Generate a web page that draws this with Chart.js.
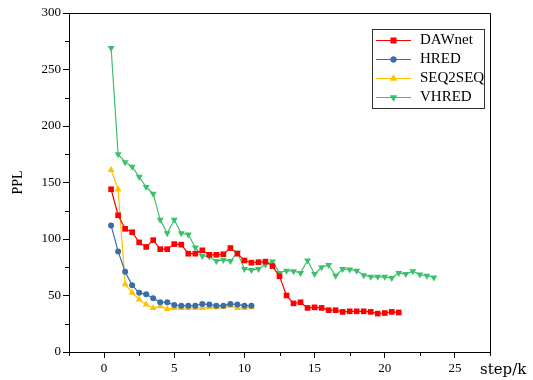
<!DOCTYPE html>
<html>
<head>
<meta charset="utf-8">
<script src="https://cdn.jsdelivr.net/npm/chart.js@4"></script>
<style>
  html, body { margin: 0; padding: 0; background: #fff; }
  #wrap { width: 533px; height: 380px; }
</style>
</head>
<body>
<div id="wrap"><canvas id="c" width="533" height="380"></canvas></div>
<script>
// ---- data ----
const seriesNames = ['DAWnet', 'HRED', 'SEQ2SEQ', 'VHRED'];
const dawnetSteps = [0.5,1,1.5,2,2.5,3,3.5,4,4.5,5,5.5,6,6.5,7,7.5,8,8.5,9,9.5,10,10.5,11,11.5,12,12.5,13,13.5,14,14.5,15,15.5,16,16.5,17,17.5,18,18.5,19,19.5,20,20.5,21];
const dawnetPPL = [144,121,109,106,97,93,99,91,91,95.5,95,87,87,90,86,86,86.5,92,87,81,79,79.5,80,76,67,50,43,44,39,39.5,39,37,37,35.5,36,36,36,35.5,34,34.5,35.5,35];
const hredSteps = [0.5,1,1.5,2,2.5,3,3.5,4,4.5,5,5.5,6,6.5,7,7.5,8,8.5,9,9.5,10,10.5];
const hredPPL = [112,89,71,59,52.5,51,47.5,44,44,41.5,41,41,41,42.5,42,41,41,42.5,42,41,41];
const seq2seqSteps = [0.5,1,1.5,2,2.5,3,3.5,4,4.5,5,5.5,6,6.5,7,7.5,8,8.5,9,9.5,10,10.5];
const seq2seqPPL = [161,144,60,52.5,46.5,42,39,40.5,38,39,39,39,39,39,39.5,39.5,40,41,39,39,39.5];
const vhredSteps = [0.5,1,1.5,2,2.5,3,3.5,4,4.5,5,5.5,6,6.5,7,7.5,8,8.5,9,9.5,10,10.5,11,11.5,12,12.5,13,13.5,14,14.5,15,15.5,16,16.5,17,17.5,18,18.5,19,19.5,20,20.5,21,21.5,22,22.5,23,23.5];
const vhredPPL = [269,175,168,164,155,146,140,117,105,117,105,104,92.5,85,84.5,80.5,81.5,80.5,88,73.5,72.5,73.5,77.5,80,70,72,71.5,70,81,69,75,77,67.5,73.5,73,72,68,66.5,66.5,66.5,65.5,70,69,71.5,68.5,67.5,66];
const xTicksLabelled = [0, 5, 10, 15, 20, 25];
const yTicksLabelled = [0, 50, 100, 150, 200, 250, 300];

const colors = ['#FF0000', '#3A6EA8', '#FFC000', '#3DC06C'];
const styles = [
  { pointStyle: 'rect', radius: 4, rotation: 0 },
  { pointStyle: 'circle', radius: 3, rotation: 0 },
  { pointStyle: 'triangle', radius: 4, rotation: 0 },
  { pointStyle: 'triangle', radius: 4, rotation: 180 }
];

const xs = [dawnetSteps, hredSteps, seq2seqSteps, vhredSteps];
const ys = [dawnetPPL, hredPPL, seq2seqPPL, vhredPPL];

const datasets = seriesNames.map((name, i) => ({
  label: name,
  data: xs[i].map((x, j) => ({ x: x, y: ys[i][j] })),
  borderColor: colors[i],
  backgroundColor: colors[i],
  pointBackgroundColor: colors[i],
  pointBorderColor: colors[i],
  pointBorderWidth: 0,
  pointStyle: styles[i].pointStyle,
  pointRadius: styles[i].radius,
  pointRotation: styles[i].rotation,
  borderWidth: 1.2,
  tension: 0,
  fill: false
}));

const tickFont = { family: 'Liberation Serif', size: 13, weight: 'normal' };

// major ticks drawn by Chart.js; minor (unlabelled) ticks made shorter here
const tickColorFn = (labelled) => (ctx) => {
  const v = ctx.tick ? ctx.tick.value : null;
  return labelled.includes(v) ? '#000' : 'rgba(0,0,0,0)';
};

const framePlugin = {
  id: 'frame',
  afterDraw(chart) {
    const { ctx, chartArea: a } = chart;
    const sx = chart.scales.x, sy = chart.scales.y;
    ctx.save();
    ctx.strokeStyle = '#000';
    ctx.lineWidth = 1;
    ctx.beginPath();
    ctx.moveTo(a.left, a.top + 0.5);
    ctx.lineTo(a.right + 0.5, a.top + 0.5);
    ctx.lineTo(a.right + 0.5, a.bottom);
    ctx.stroke();

    // minor ticks
    ctx.beginPath();
    sx.ticks.forEach(t => {
      if (!xTicksLabelled.includes(t.value)) {
        const px = Math.round(sx.getPixelForValue(t.value)) + 0.5;
        ctx.moveTo(px, a.bottom);
        ctx.lineTo(px, a.bottom + 4);
      }
    });
    sy.ticks.forEach(t => {
      if (!yTicksLabelled.includes(t.value)) {
        const py = Math.round(sy.getPixelForValue(t.value)) + 0.5;
        ctx.moveTo(a.left, py);
        ctx.lineTo(a.left - 4, py);
      }
    });
    ctx.stroke();

    // x-axis title at the right end
    ctx.fillStyle = '#000';
    ctx.font = '15px "DejaVu Serif"';
    ctx.textBaseline = 'middle';
    ctx.textAlign = 'left';
    ctx.fillText('step/k', a.right - 10, a.bottom + 18);

    // legend box
    const lx = 372, ly = 29, lw = 112, lh = 79;
    ctx.strokeStyle = '#333';
    ctx.strokeRect(lx + 0.5, ly + 0.5, lw, lh);
    ctx.font = '15px "Liberation Serif"';
    seriesNames.forEach((name, i) => {
      const yy = 40.5 + i * 19;
      ctx.strokeStyle = colors[i];
      ctx.lineWidth = 1.2;
      ctx.beginPath();
      ctx.moveTo(376, yy);
      ctx.lineTo(411, yy);
      ctx.stroke();
      ctx.fillStyle = colors[i];
      Chart.helpers.drawPoint(ctx, {
        pointStyle: styles[i].pointStyle,
        radius: styles[i].radius,
        rotation: styles[i].rotation,
        borderWidth: 0
      }, 393.5, yy);
      ctx.fill();
      ctx.fillStyle = '#000';
      ctx.fillText(name, 420, yy);
    });
    ctx.restore();
  }
};

new Chart(document.getElementById('c'), {
  type: 'line',
  data: { datasets },
  options: {
    responsive: false,
    animation: false,
    devicePixelRatio: 1,
    layout: { padding: { left: 0, right: 43, top: 13, bottom: 0 } },
    plugins: { legend: { display: false }, tooltip: { enabled: false } },
    scales: {
      x: {
        type: 'linear',
        min: -2.5,
        max: 27.5,
        afterFit(scale) { scale.height = 28; },
        ticks: {
          stepSize: 2.5,
          autoSkip: false,
          maxRotation: 0,
          color: '#000',
          font: tickFont,
          padding: 3,
          callback: (v) => xTicksLabelled.includes(v) ? String(v) : ''
        },
        grid: { drawOnChartArea: false, tickLength: 6, color: '#000', tickColor: tickColorFn(xTicksLabelled) },
        border: { display: true, color: '#000', width: 1 }
      },
      y: {
        type: 'linear',
        min: 0,
        max: 300,
        afterFit(scale) { scale.width = 69; },
        title: {
          display: true,
          text: 'PPL',
          color: '#000',
          font: { family: 'Liberation Serif', size: 14, weight: 'normal' },
          padding: { top: 10, bottom: 0 }
        },
        ticks: {
          stepSize: 25,
          autoSkip: false,
          color: '#000',
          font: tickFont,
          padding: 2,
          callback: (v) => yTicksLabelled.includes(v) ? String(v) : ''
        },
        grid: { drawOnChartArea: false, tickLength: 6, color: '#000', tickColor: tickColorFn(yTicksLabelled) },
        border: { display: true, color: '#000', width: 1 }
      }
    }
  },
  plugins: [framePlugin]
});
</script>
</body>
</html>
